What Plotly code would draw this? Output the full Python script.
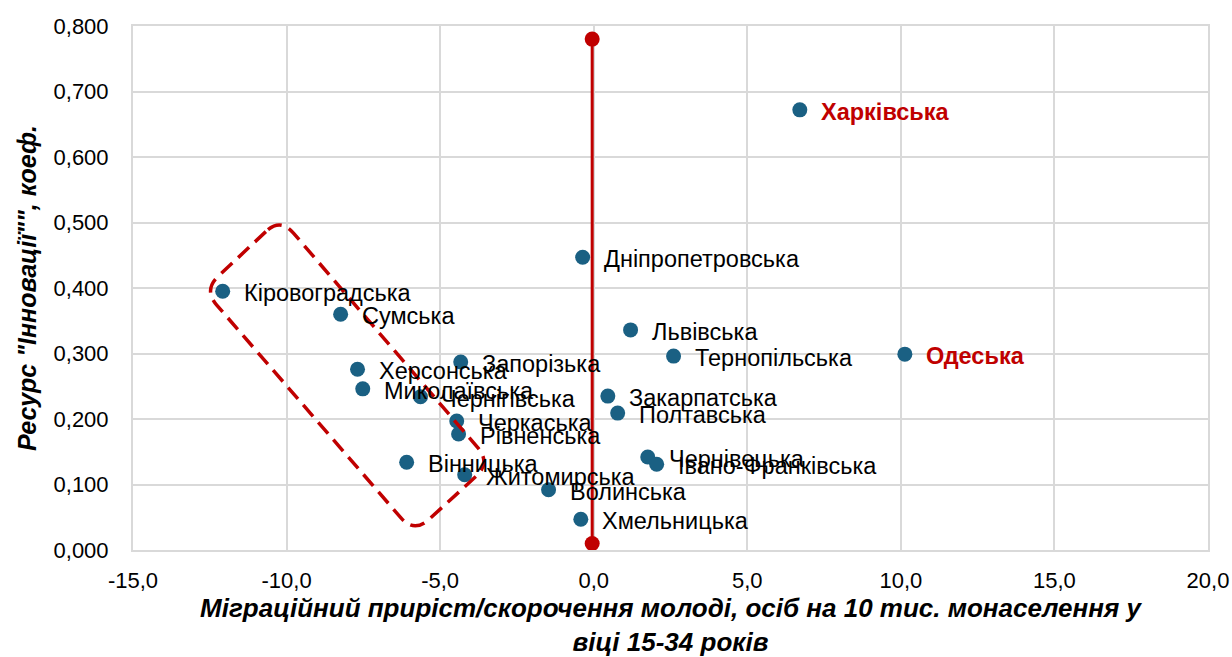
import plotly.graph_objects as go
import numpy as np

regions = ["Харківська", "Одеська", "Дніпропетровська", "Кіровоградська", "Сумська",
           "Херсонська", "Миколаївська", "Запорізька", "Чернігівська", "Черкаська",
           "Рівненська", "Вінницька", "Житомирська", "Волинська", "Хмельницька",
           "Львівська", "Тернопільська", "Закарпатська", "Полтавська", "Чернівецька",
           "Івано-Франківська"]
migration = [6.71, 10.13, -0.36, -12.08, -8.24,
             -7.69, -7.52, -4.33, -5.64, -4.46,
             -4.40, -6.09, -4.20, -1.47, -0.42,
             1.20, 2.60, 0.46, 0.78, 1.76,
             2.05]
innovation = [0.672, 0.299, 0.447, 0.395, 0.360,
              0.276, 0.246, 0.287, 0.234, 0.197,
              0.177, 0.134, 0.115, 0.092, 0.047,
              0.336, 0.296, 0.235, 0.209, 0.142,
              0.131]
highlight = ["Харківська", "Одеська"]

ref_x = [-0.05, -0.05]
ref_y = [0.01, 0.78]

# dashed outline (rotated rectangle) corners, data coordinates
box_x = [-10.2, -12.7, -5.85, -3.35]
box_y = [0.507, 0.397, 0.026, 0.133]

x_ticks = [-15, -10, -5, 0, 5, 10, 15, 20]
y_ticks = [0, 0.1, 0.2, 0.3, 0.4, 0.5, 0.6, 0.7, 0.8]
x_labels = ["-15,0", "-10,0", "-5,0", "0,0", "5,0", "10,0", "15,0", "20,0"]
y_labels = ["0,000", "0,100", "0,200", "0,300", "0,400", "0,500", "0,600", "0,700", "0,800"]

FONT = "Liberation Sans, Arial, sans-serif"
RED = "#C00000"
BLUE = "#1A6083"

W, H = 1232, 657
ML, MR, MT, MB = 133, 24, 26, 107
xr = [-15, 20]
yr = [0, 0.8]
sx = (W - ML - MR) / (xr[1] - xr[0])
sy = (H - MT - MB) / (yr[1] - yr[0])

# rounded path
pts = np.array([[x * sx, y * sy] for x, y in zip(box_x, box_y)])
r = 20.0
n = len(pts)
segs = []
for i in range(n):
    p = pts[i]
    prv = pts[i - 1]
    nxt = pts[(i + 1) % n]
    a = p + r * (prv - p) / np.linalg.norm(prv - p)
    b = p + r * (nxt - p) / np.linalg.norm(nxt - p)
    segs.append((a, p, b))
def d(v):
    return f"{v[0]/sx:.4f},{v[1]/sy:.5f}"
path = "M " + d(segs[0][2])
for i in range(1, n + 1):
    a, p, b = segs[i % n]
    path += f" L {d(a)} Q {d(p)} {d(b)}"
path += " Z"

fig = go.Figure()
fig.add_trace(go.Scatter(x=ref_x, y=ref_y, mode="lines+markers",
                         line=dict(color=RED, width=3),
                         marker=dict(color=RED, size=15), hoverinfo="skip"))
fig.add_trace(go.Scatter(x=migration, y=innovation, mode="markers", text=regions,
                         marker=dict(color=BLUE, size=15)))

annotations = []
for name, x, y in zip(regions, migration, innovation):
    hl = name in highlight
    annotations.append(dict(x=x, y=y, xref="x", yref="y", text=f"<b>{name}</b>" if hl else name,
                            showarrow=False, xanchor="left", yanchor="middle",
                            xshift=19, yshift=-2,
                            font=dict(family=FONT, size=23.5, color=RED if hl else "#000000")))

fig.add_shape(type="path", path=path, xref="x", yref="y",
              line=dict(color=RED, width=3.5, dash="15px,8px"), layer="above")

fig.update_layout(
    width=W, height=H, margin=dict(l=ML, r=MR, t=MT, b=MB),
    paper_bgcolor="white", plot_bgcolor="white", showlegend=False,
    annotations=annotations,
    font=dict(family=FONT, size=22, color="#000000"),
    xaxis=dict(range=xr, tickvals=x_ticks, ticktext=x_labels, showgrid=True,
               gridcolor="#D9D9D9", gridwidth=2, zeroline=False,
               showline=True, linecolor="#D9D9D9", linewidth=2, mirror=True,
               ticks="", ticklabelstandoff=10, automargin=False,
               tickfont=dict(family=FONT, size=22, color="#000000"),
               title=dict(text="<b><i>Міграційний приріст/скорочення молоді, осіб на 10 тис. монаселення у<br>віці 15-34 років</i></b>",
                          font=dict(family=FONT, size=26, color="#000000"), standoff=8)),
    yaxis=dict(range=yr, tickvals=y_ticks, ticktext=y_labels, showgrid=True,
               gridcolor="#D9D9D9", gridwidth=2, zeroline=False,
               showline=True, linecolor="#D9D9D9", linewidth=2, mirror=True,
               ticks="", ticklabelstandoff=18, automargin=False,
               tickfont=dict(family=FONT, size=22, color="#000000"),
               title=dict(text="<b><i>Ресурс \"Інновації\"\", коеф.</i></b>",
                          font=dict(family=FONT, size=25, color="#000000"), standoff=10)),
)

fig.write_html("out.html", config={"displayModeBar": False},
               post_script="document.body.style.margin='0';")
